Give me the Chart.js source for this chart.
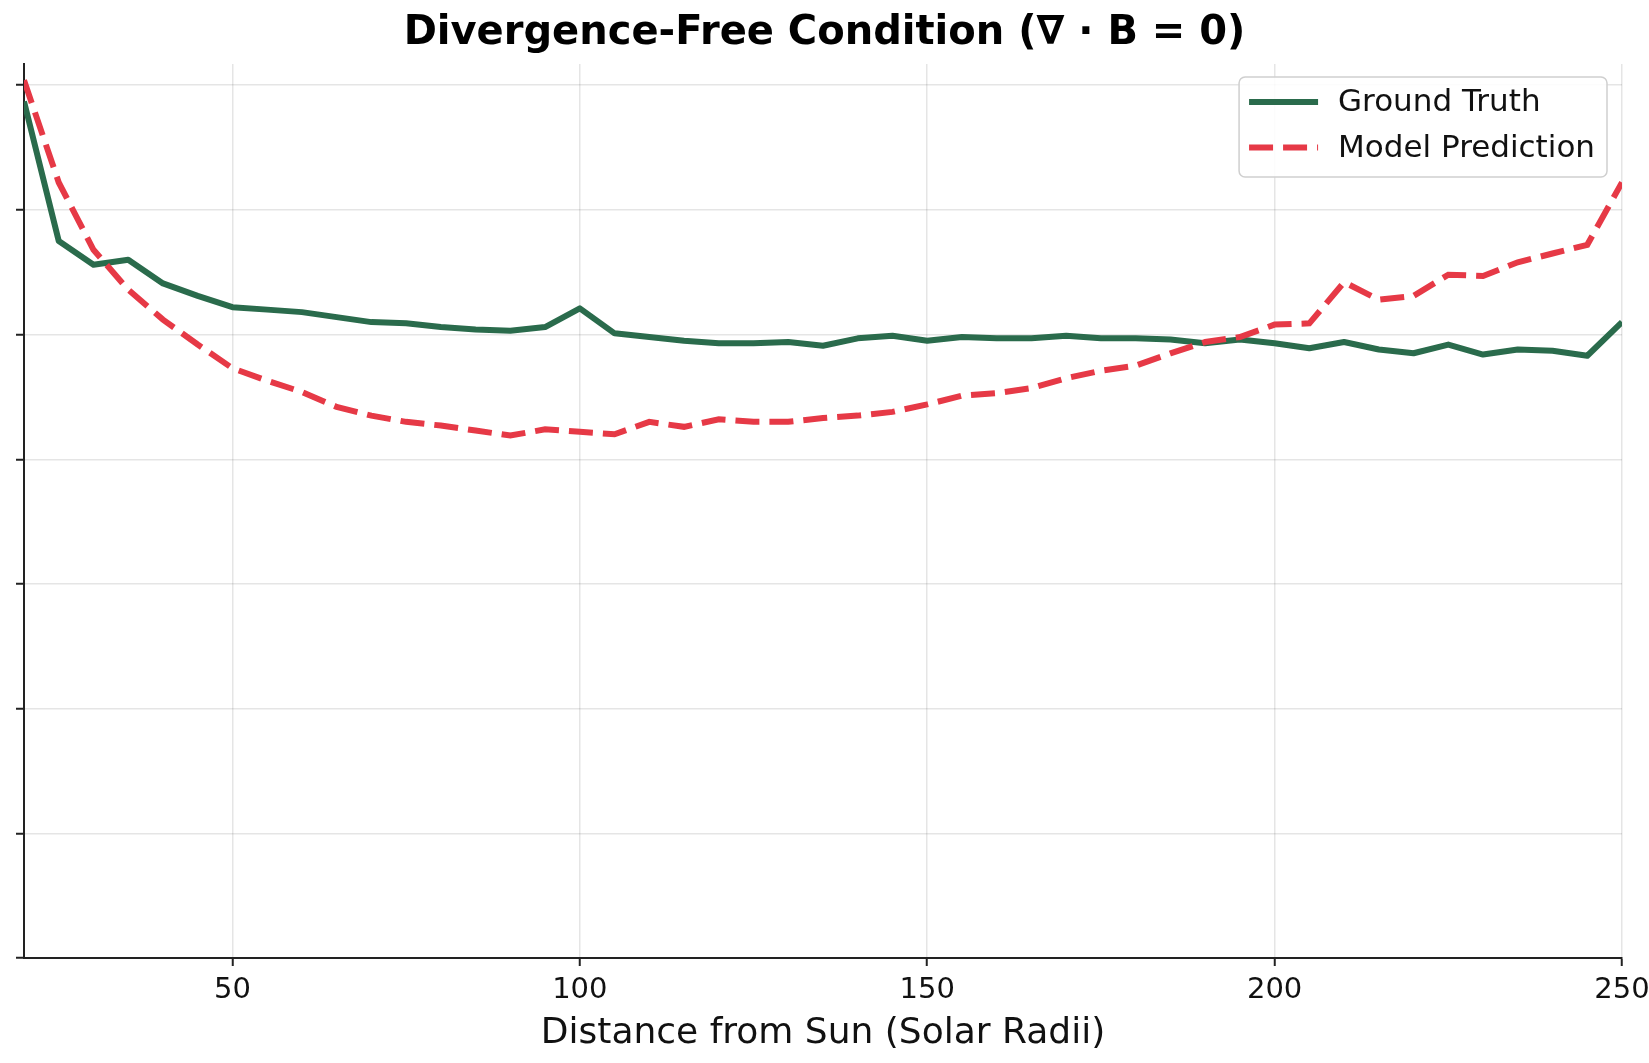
<!DOCTYPE html>
<html>
<head>
<meta charset="utf-8">
<title>Divergence-Free Condition</title>
<script src="https://cdn.jsdelivr.net/npm/chart.js@4.4.0/dist/chart.umd.min.js"></script>
<style>
  html, body { margin: 0; padding: 0; background: #fff; }
  #wrap { width: 1649px; height: 1063px; }
</style>
</head>
<body>
<div id="wrap"><canvas id="divChart" width="1649" height="1063"></canvas></div>
<script>
// distance from sun (solar radii)
const distances = [20, 25, 30, 35, 40, 45, 50, 55, 60, 65, 70, 75, 80, 85, 90, 95,
  100, 105, 110, 115, 120, 125, 130, 135, 140, 145, 150, 155, 160, 165, 170, 175,
  180, 185, 190, 195, 200, 205, 210, 215, 220, 225, 230, 235, 240, 245, 250];

// values (y axis has no labels, units = tick steps)
const groundTruth = [6.87, 5.75, 5.56, 5.60, 5.41, 5.31, 5.22, 5.20, 5.18, 5.14, 5.10, 5.09, 5.06, 5.04, 5.03, 5.06,
  5.21, 5.01, 4.98, 4.95, 4.93, 4.93, 4.94, 4.91, 4.97, 4.99, 4.95, 4.98, 4.97, 4.97, 4.99, 4.97,
  4.97, 4.96, 4.93, 4.96, 4.93, 4.89, 4.94, 4.88, 4.85, 4.92, 4.84, 4.88, 4.87, 4.83, 5.10];

const modelPrediction = [7.04, 6.22, 5.68, 5.36, 5.12, 4.92, 4.73, 4.63, 4.54, 4.42, 4.35, 4.30, 4.27, 4.23, 4.19, 4.24,
  4.22, 4.20, 4.30, 4.26, 4.32, 4.30, 4.30, 4.33, 4.35, 4.38, 4.44, 4.51, 4.53, 4.57, 4.65, 4.71,
  4.75, 4.85, 4.94, 4.98, 5.08, 5.09, 5.42, 5.28, 5.31, 5.48, 5.47, 5.58, 5.65, 5.72, 6.22];

const xTicks = [50, 100, 150, 200, 250];
const yTicks = [0, 1, 2, 3, 4, 5, 6, 7];

function toPoints(ys) {
  return distances.map((d, i) => ({ x: d, y: ys[i] }));
}

// legend in a rounded box, top right of the plot
const boxLegend = {
  id: 'boxLegend',
  afterDraw(chart) {
    const ctx = chart.ctx;
    const area = chart.chartArea;
    const items = [chart.data.datasets[0], chart.data.datasets[1]];
    ctx.save();
    ctx.font = '31px "DejaVu Sans"';
    let textW = 0;
    items.forEach(ds => { textW = Math.max(textW, ctx.measureText(ds.label).width); });
    const boxW = 10 + 69 + 20 + textW + 12;
    const boxH = 100;
    const right = area.right - 15;
    const left = right - boxW;
    const top = area.top + 13;

    ctx.beginPath();
    ctx.roundRect(left, top, boxW, boxH, 6);
    ctx.fillStyle = 'rgba(255,255,255,0.85)';
    ctx.fill();
    ctx.lineWidth = 1.5;
    ctx.strokeStyle = '#cfcfcf';
    ctx.stroke();

    items.forEach((ds, i) => {
      const y = top + 25 + i * 45.6;
      ctx.beginPath();
      ctx.setLineDash(ds.borderDash || []);
      ctx.lineWidth = ds.borderWidth;
      ctx.strokeStyle = ds.borderColor;
      ctx.lineCap = 'butt';
      ctx.moveTo(left + 10, y);
      ctx.lineTo(left + 79, y);
      ctx.stroke();
      ctx.setLineDash([]);
      ctx.fillStyle = '#111';
      ctx.textBaseline = 'middle';
      ctx.textAlign = 'left';
      ctx.fillText(ds.label, left + 99, y + 1);
    });
    ctx.restore();
  }
};

const ctx = document.getElementById('divChart').getContext('2d');
const chart = new Chart(ctx, {
  type: 'line',
  data: {
    datasets: [{
      label: 'Ground Truth',
      data: toPoints(groundTruth),
      borderColor: '#2A6B4C',
      borderWidth: 6,
      borderJoinStyle: 'round',
      pointRadius: 0,
      tension: 0,
      fill: false,
      order: 1
    }, {
      label: 'Model Prediction',
      data: toPoints(modelPrediction),
      borderColor: '#E63946',
      borderWidth: 6,
      borderDash: [24, 10],
      borderCapStyle: 'butt',
      pointRadius: 0,
      tension: 0,
      fill: false,
      order: 0
    }]
  },
  options: {
    responsive: false,
    animation: false,
    devicePixelRatio: 1,
    layout: { padding: 0 },
    plugins: {
      legend: { display: false },
      tooltip: { enabled: false },
      title: {
        display: true,
        text: 'Divergence-Free Condition (\u2207 \u00b7 B = 0)',
        color: '#000',
        font: { family: 'DejaVu Sans', size: 40, weight: 'bold' },
        padding: { top: 10, bottom: 6 }
      }
    },
    scales: {
      x: {
        type: 'linear',
        min: 20,
        max: 250,
        afterBuildTicks(scale) { scale.ticks = xTicks.map(v => ({ value: v })); },
        afterFit(scale) {
          scale.height = 105;
          scale.paddingLeft = 0;
          scale.paddingRight = 0;
        },
        grid: {
          color: 'rgba(0,0,0,0.1)',
          lineWidth: 1.5,
          drawTicks: true,
          tickLength: 8,
          tickColor: '#222',
          tickWidth: 2
        },
        border: { display: true, color: '#222', width: 2 },
        ticks: {
          color: '#111',
          padding: 7,
          maxRotation: 0,
          font: { family: 'DejaVu Sans', size: 29 }
        },
        title: {
          display: true,
          text: 'Distance from Sun (Solar Radii)',
          color: '#111',
          font: { family: 'DejaVu Sans', size: 36 },
          padding: { top: 0, bottom: 8 }
        }
      },
      y: {
        type: 'linear',
        min: 0,
        max: 7.17,
        afterBuildTicks(scale) { scale.ticks = yTicks.map(v => ({ value: v })); },
        afterFit(scale) { scale.width = 24; },
        grid: {
          color: 'rgba(0,0,0,0.1)',
          lineWidth: 1.5,
          drawTicks: true,
          tickLength: 8,
          tickColor: '#222',
          tickWidth: 2
        },
        border: { display: true, color: '#222', width: 2 },
        ticks: {
          callback: () => '',
          padding: 0
        }
      },
      yRight: {
        type: 'linear',
        position: 'right',
        display: true,
        afterFit(scale) { scale.width = 27; },
        grid: { display: false, drawTicks: false },
        border: { display: false },
        ticks: { display: false }
      }
    }
  },
  plugins: [boxLegend]
});
</script>
</body>
</html>
